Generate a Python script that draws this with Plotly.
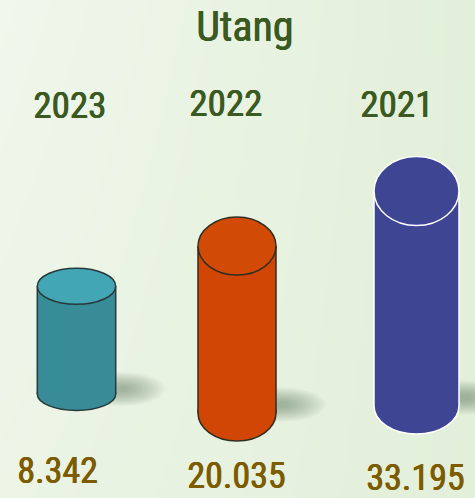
import numpy as np
import plotly.graph_objects as go

# data
years = ["2023", "2022", "2021"]
values = [8.342, 20.035, 33.195]
value_labels = ["8.342", "20.035", "33.195"]
title_text = "Utang"

# look / layout
W, H = 475, 498
FONT = "Roboto Condensed"
GREEN = "#3b5a22"
OLIVE = "#7d5c00"
body_colors = ["#378c98", "#d14605", "#3e4593"]
top_colors = ["#43a6b4", "#d14a06", "#3e4593"]
edge_colors = ["#27393a", "#2e2e22", "#ffffff"]
cx = [76.5, 237, 416.5]          # cylinder centres (px)
rx = [39.2, 39, 42.5]
base_y = [394, 413, 406]         # bottom ellipse centre (px)
ry_top = [18, 29, 34.5]
ry_bot = [16.5, 28, 28]
k = 37.3                          # sqrt scale: px per sqrt(unit)
year_pos = [(69, 105), (225.5, 103), (396, 104.5)]
val_pos = [(57, 471), (235.5, 476), (415, 478)]


def font(size, color):
    # a touch heavier than regular, lighter than bold
    return dict(family=FONT, size=size, color=color,
                shadow=f"0.7px 0 0 {color}, 0.35px 0 0 {color}")


fig = go.Figure()

# soft background gradient
fig.add_trace(go.Heatmap(
    x=[0, W], y=[0, H], z=[[0.0, 1.0], [0.35, 1.0]],
    colorscale=[[0, "#f0f7ec"], [1, "#e2efd9"]],
    zsmooth="best", showscale=False, hoverinfo="skip"))

shapes = []
for i, v in enumerate(values):
    h = k * np.sqrt(v)
    yb = base_y[i]
    yt = yb - h
    c = cx[i]
    r = rx[i]
    # blurred shadow
    sx0, sy0 = c + r + 6, yb - 0.3 * ry_bot[i]
    n = 16
    for j in range(n):
        s = 1 - j / n
        shapes.append(dict(type="circle", xref="x", yref="y",
                           x0=sx0 - 40 * s - 4, x1=sx0 + 40 * s + 4,
                           y0=sy0 - 15 * s - 2, y1=sy0 + 15 * s + 2,
                           fillcolor="#5c6c5c", opacity=0.037, line_width=0,
                           layer="above"))
    # bottom ellipse
    shapes.append(dict(type="circle", xref="x", yref="y",
                       x0=c - r, x1=c + r, y0=yb - ry_bot[i], y1=yb + ry_bot[i],
                       fillcolor=body_colors[i],
                       line=dict(color=edge_colors[i], width=1.5), layer="above"))
    # body
    shapes.append(dict(type="rect", xref="x", yref="y",
                       x0=c - r, x1=c + r, y0=yt, y1=yb,
                       fillcolor=body_colors[i], line_width=0, layer="above"))
    for sx in (c - r, c + r):
        shapes.append(dict(type="line", xref="x", yref="y",
                           x0=sx, x1=sx, y0=yt, y1=yb,
                           line=dict(color=edge_colors[i], width=1.5), layer="above"))
    # top ellipse
    shapes.append(dict(type="circle", xref="x", yref="y",
                       x0=c - r, x1=c + r, y0=yt - ry_top[i], y1=yt + ry_top[i],
                       fillcolor=top_colors[i],
                       line=dict(color=edge_colors[i], width=1.5), layer="above"))

annotations = [dict(x=244.5, y=26.7, text=title_text, showarrow=False,
                    font=font(42, GREEN))]
for i in range(len(years)):
    annotations.append(dict(x=year_pos[i][0], y=year_pos[i][1], text=years[i],
                            showarrow=False, font=font(37, GREEN)))
    annotations.append(dict(x=val_pos[i][0], y=val_pos[i][1], text=value_labels[i],
                            showarrow=False, font=font(36, OLIVE)))

fig.update_layout(
    width=W, height=H,
    margin=dict(l=0, r=0, t=0, b=0),
    paper_bgcolor="#e9f3e3", plot_bgcolor="#e9f3e3",
    xaxis=dict(range=[0, W], visible=False, fixedrange=True),
    yaxis=dict(range=[H, 0], visible=False, fixedrange=True),
    shapes=shapes, annotations=annotations, showlegend=False,
)

fig.write_html("out.html", config={"displayModeBar": False},
               post_script="document.body.style.margin='0';")
